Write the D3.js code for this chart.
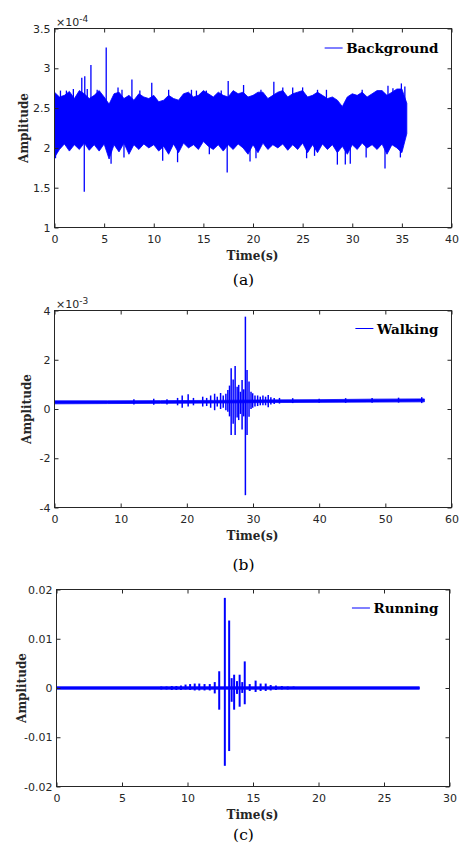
<!DOCTYPE html>
<html>
<head>
<meta charset="utf-8">
<script src="https://cdn.jsdelivr.net/npm/d3@7"></script>
<style>
body { margin: 0; background: #fff; }
</style>
</head>
<body>
<svg id="svg-main"></svg>
<script>
const BLUE = "#0000ff";
const AXIS_COLOR = "#262626";
const SANS = "'DejaVu Sans', sans-serif";
const SERIF = "'DejaVu Serif', serif";

// ---- (a) Background, amplitude in units of 1e-4 ----
var bgTime = [0,0.5,1,1.5,2,2.5,3,3.5,4,4.5,5,5.5,6,6.5,7,7.5,8,8.5,9,9.5,10,10.5,11,11.5,12,12.5,13,13.5,14,14.5,15,15.5,16,16.5,17,17.5,18,18.5,19,19.5,20,20.5,21,21.5,22,22.5,23,23.5,24,24.5,25,25.5,26,26.5,27,27.5,28,28.5,29,29.5,30,30.5,31,31.5,32,32.5,33,33.5,34,34.5,35,35.5];
var bgHigh = [2.70,2.64,2.66,2.71,2.62,2.72,2.68,2.62,2.66,2.72,2.64,2.55,2.68,2.70,2.62,2.66,2.60,2.68,2.64,2.62,2.66,2.58,2.60,2.66,2.62,2.60,2.68,2.70,2.64,2.66,2.72,2.68,2.64,2.70,2.66,2.64,2.72,2.68,2.70,2.64,2.66,2.70,2.70,2.62,2.66,2.70,2.72,2.64,2.68,2.70,2.72,2.64,2.66,2.70,2.66,2.62,2.64,2.60,2.52,2.64,2.68,2.66,2.70,2.64,2.68,2.72,2.72,2.66,2.70,2.74,2.74,2.56];
var bgLow = [1.88,1.98,2.05,1.96,2.04,1.98,2.06,1.97,2.04,1.96,2.05,1.86,2.04,1.95,2.06,1.92,2.04,1.98,2.05,2.00,2.04,1.96,2.02,1.92,2.05,1.94,2.06,2.00,2.04,1.98,2.08,2.02,1.98,2.04,1.96,2.04,1.98,2.05,2.00,1.92,2.04,1.94,2.06,1.98,2.04,2.00,2.05,1.97,2.04,1.98,2.06,1.94,2.04,1.94,2.05,1.98,2.04,1.94,2.02,1.92,2.04,1.98,2.06,2.00,2.04,1.98,2.05,1.92,2.04,2.00,1.94,2.18];
var bgSpikeTime = [0.6,1.2,1.9,2.75,3.05,3.3,3.67,4.3,5.21,6.4,6.8,7.8,8.6,9.8,11.5,13.8,14.3,15.3,16.8,17.5,19.05,20.8,22.1,23.0,24.0,25.0,26.5,27.4,31.0,33.6,34.1,34.95,35.3,
                   0.1,3.0,5.7,7.0,10.9,12.4,15.6,17.4,19.7,20.3,25.4,26.2,28.5,29.3,29.8,31.4,33.3,34.85];
var bgSpikeHigh = [2.72,2.72,2.74,2.88,2.90,2.74,3.04,2.73,3.26,2.76,2.73,2.86,2.72,2.82,2.73,2.73,2.72,2.72,2.72,2.84,2.79,2.73,2.83,2.76,2.76,2.76,2.73,2.73,2.73,2.78,2.75,2.81,2.77,
                   2.3,2.3,2.3,2.3,2.3,2.3,2.3,2.3,2.3,2.3,2.3,2.3,2.3,2.3,2.3,2.3,2.3,2.3];
var bgSpikeLow = [2.3,2.3,2.3,2.3,2.3,2.3,2.3,2.3,2.3,2.3,2.3,2.3,2.3,2.3,2.3,2.3,2.3,2.3,2.3,2.3,2.3,2.3,2.3,2.3,2.3,2.3,2.3,2.3,2.3,2.3,2.3,2.3,2.3,
                  1.87,1.45,1.80,1.88,1.84,1.82,1.92,1.69,1.83,1.87,1.87,1.90,1.79,1.79,1.80,1.88,1.74,1.88];

// ---- (b) Walking, amplitude in units of 1e-3 ----
var walkTime = [0,8,16,24,32,40,48,55.9];
var walkHigh = [0.33,0.33,0.34,0.35,0.37,0.38,0.40,0.41];
var walkLow = [0.21,0.22,0.23,0.24,0.26,0.27,0.28,0.29];
var walkSpikeTime = [12.0,15.0,17.0,18.6,19.3,20.2,21.0,22.4,23.0,23.6,24.2,24.6,25.1,25.5,25.9,26.2,26.45,26.7,27.0,27.3,27.6,27.84,28.1,28.35,28.6,28.85,29.1,29.4,29.7,29.95,30.3,30.7,31.1,31.5,31.9,32.3,32.7,33.2,34,36,40,44,48,52,55.5];
var walkSpikeHigh = [0.40,0.42,0.40,0.45,0.55,0.60,0.45,0.50,0.45,0.55,0.62,0.50,0.65,0.55,0.62,0.77,0.95,1.65,1.20,1.75,0.90,0.98,0.70,1.18,0.80,3.75,1.58,1.12,0.70,0.64,0.55,0.55,0.50,0.55,0.50,0.57,0.48,0.45,0.45,0.44,0.42,0.44,0.45,0.46,0.48];
var walkSpikeLow = [0.18,0.17,0.18,0.15,0.05,0.10,0.15,0.10,0.12,0.05,-0.05,0.10,0.00,0.05,-0.05,-0.11,-0.30,-1.06,-0.60,-1.06,-0.35,-0.45,-0.20,-0.83,-0.30,-3.50,-1.06,-0.31,0.00,0.05,0.10,0.12,0.15,0.15,0.15,0.07,0.18,0.20,0.22,0.24,0.25,0.25,0.25,0.26,0.24];

// ---- (c) Running ----
var runTime = [0,27.7];
var runHigh = [0.00025,0.00025];
var runLow = [-0.00025,-0.00025];
var runSpikeTime = [7.25,7.63,8.0,8.4,8.8,9.15,9.5,9.85,10.2,10.55,10.9,11.3,11.7,12.08,12.42,12.85,13.18,13.37,13.56,13.78,13.98,14.18,14.37,14.75,15.2,15.58,15.97,16.35,16.75,17.2,17.65,18.1,18.9,19.5];
var runSpikeHigh = [0.0002,0.0002,0.0003,0.0003,0.0004,0.0004,0.0005,0.0007,0.0008,0.0009,0.0009,0.0008,0.0008,0.0012,0.0034,0.0183,0.0137,0.0020,0.0027,0.0014,0.0027,0.0012,0.0054,0.0008,0.0015,0.0009,0.0009,0.0006,0.0005,0.0004,0.0003,0.0003,0.0002,0.0002];
var runSpikeLow = [-0.0002,-0.0002,-0.0003,-0.0003,-0.0004,-0.0004,-0.0004,-0.0003,-0.0004,-0.0005,-0.0005,-0.0005,-0.0005,-0.0011,-0.0044,-0.0158,-0.0128,-0.0028,-0.0044,-0.0012,-0.0038,-0.0010,-0.0033,-0.0006,-0.0008,-0.0006,-0.0006,-0.0005,-0.0004,-0.0003,-0.0003,-0.0002,-0.0002,-0.0002];

// ---- axes ticks ----
var xTicksA = [0,5,10,15,20,25,30,35,40];
var yTicksA = [1,1.5,2,2.5,3,3.5];
var xTicksB = [0,10,20,30,40,50,60];
var yTicksB = [-4,-2,0,2,4];
var xTicksC = [0,5,10,15,20,25,30];
var yTicksC = [-0.02,-0.01,0,0.01,0.02];

var Dims = {
    MainSvg : { Width: 460, Height: 845 },
    TickSize : 4,
    LegendRight : 438.5
};

var panels = [
    {
        box: { left: 54.5, right: 451.5, top: 28.5, bottom: 227.5 },
        xDomain: [0, 40], yDomain: [1, 3.5],
        xTicks: xTicksA, yTicks: yTicksA,
        band: [bgTime, bgHigh, bgLow],
        spikes: [bgSpikeTime, bgSpikeHigh, bgSpikeLow], spikeWidth: 1.3,
        exponent: "-4", legend: "Background", legendY: 53,
        ylabelX: 27.5, xlabelY: 260, caption: "(a)", captionY: 285
    },
    {
        box: { left: 54.5, right: 451.5, top: 310.5, bottom: 507.5 },
        xDomain: [0, 60], yDomain: [-4, 4],
        xTicks: xTicksB, yTicks: yTicksB,
        band: [walkTime, walkHigh, walkLow],
        spikes: [walkSpikeTime, walkSpikeHigh, walkSpikeLow], spikeWidth: 1.5,
        exponent: "-3", legend: "Walking", legendY: 333.5,
        ylabelX: 31, xlabelY: 540, caption: "(b)", captionY: 569.5
    },
    {
        box: { left: 56.5, right: 449.5, top: 589.5, bottom: 786.5 },
        xDomain: [0, 30], yDomain: [-0.02, 0.02],
        xTicks: xTicksC, yTicks: yTicksC,
        band: [runTime, runHigh, runLow],
        spikes: [runSpikeTime, runSpikeHigh, runSpikeLow], spikeWidth: 2,
        exponent: null, legend: "Running", legendY: 613,
        ylabelX: 25.5, xlabelY: 819, caption: "(c)", captionY: 840
    }
];

var svg = d3.select("svg#svg-main")
    .attr("width", Dims.MainSvg.Width)
    .attr("height", Dims.MainSvg.Height)
    .style("display", "block");

panels.forEach(drawPanel);

function drawPanel(p) {
    var box = p.box;
    var x = d3.scaleLinear().domain(p.xDomain).range([box.left, box.right]);
    var y = d3.scaleLinear().domain(p.yDomain).range([box.bottom, box.top]);
    var g = svg.append("g");

    // dense noise band
    var bandData = p.band[0].map(function(t, i) {
        return { t: t, hi: p.band[1][i], lo: p.band[2][i] };
    });
    var area = d3.area()
        .x(function(d) { return x(d.t); })
        .y0(function(d) { return y(d.lo); })
        .y1(function(d) { return y(d.hi); });
    g.append("path")
        .datum(bandData)
        .attr("d", area)
        .attr("fill", BLUE)
        .attr("stroke", BLUE)
        .attr("stroke-width", 0.8);

    // spikes
    var spikeData = p.spikes[0].map(function(t, i) {
        return { t: t, hi: p.spikes[1][i], lo: p.spikes[2][i] };
    });
    g.selectAll("line.spike")
        .data(spikeData)
        .enter()
        .append("line")
        .attr("class", "spike")
        .attr("x1", function(d) { return x(d.t); })
        .attr("x2", function(d) { return x(d.t); })
        .attr("y1", function(d) { return y(d.hi); })
        .attr("y2", function(d) { return y(d.lo); })
        .attr("stroke", BLUE)
        .attr("stroke-width", p.spikeWidth);

    // axes (ticks inside, MATLAB style)
    var fmt = function(d) { return String(d); };
    var bottom = g.append("g")
        .attr("transform", `translate(0,${box.bottom})`)
        .call(d3.axisBottom(x).tickValues(p.xTicks).tickSizeInner(-Dims.TickSize).tickSizeOuter(0).tickPadding(8).tickFormat(fmt));
    var left = g.append("g")
        .attr("transform", `translate(${box.left},0)`)
        .call(d3.axisLeft(y).tickValues(p.yTicks).tickSizeInner(-Dims.TickSize).tickSizeOuter(0).tickPadding(4).tickFormat(fmt));
    var top = g.append("g")
        .attr("transform", `translate(0,${box.top})`)
        .call(d3.axisTop(x).tickValues(p.xTicks).tickSizeInner(-Dims.TickSize).tickSizeOuter(0).tickFormat(""));
    var right = g.append("g")
        .attr("transform", `translate(${box.right},0)`)
        .call(d3.axisRight(y).tickValues(p.yTicks).tickSizeInner(-Dims.TickSize).tickSizeOuter(0).tickFormat(""));

    [bottom, left, top, right].forEach(function(a) {
        a.select(".domain").remove();
        a.selectAll("line").attr("stroke", AXIS_COLOR);
        a.selectAll("text")
            .attr("fill", AXIS_COLOR)
            .attr("font-family", SANS)
            .attr("font-size", 11);
    });

    g.append("rect")
        .attr("x", box.left)
        .attr("y", box.top)
        .attr("width", box.right - box.left)
        .attr("height", box.bottom - box.top)
        .attr("fill", "none")
        .attr("stroke", AXIS_COLOR)
        .attr("stroke-width", 1);

    // exponent
    if (p.exponent) {
        var ex = g.append("text")
            .attr("x", box.left + 1.5)
            .attr("y", box.top - 3)
            .attr("font-family", SANS)
            .attr("font-size", 11)
            .attr("fill", AXIS_COLOR)
            .text("\u00d710");
        ex.append("tspan")
            .attr("font-size", 9)
            .attr("dy", -4)
            .text(p.exponent);
    }

    // labels
    var cx = (box.left + box.right) / 2;
    g.append("text")
        .attr("x", cx - 0.5)
        .attr("y", p.xlabelY)
        .attr("text-anchor", "middle")
        .attr("font-family", SERIF)
        .attr("font-weight", "bold")
        .attr("font-size", 12)
        .attr("fill", AXIS_COLOR)
        .text("Time(s)");

    g.append("text")
        .attr("transform", `translate(${p.ylabelX},${(box.top + box.bottom) / 2}) rotate(-90)`)
        .attr("text-anchor", "middle")
        .attr("font-family", SERIF)
        .attr("font-weight", "bold")
        .attr("font-size", 12)
        .attr("fill", AXIS_COLOR)
        .text("Amplitude");

    g.append("text")
        .attr("x", 243.5)
        .attr("y", p.captionY)
        .attr("text-anchor", "middle")
        .attr("font-family", SERIF)
        .attr("font-size", 15.5)
        .attr("fill", "#000")
        .text(p.caption);

    // legend
    var lt = g.append("text")
        .attr("x", Dims.LegendRight)
        .attr("y", p.legendY)
        .attr("text-anchor", "end")
        .attr("font-family", SERIF)
        .attr("font-weight", "bold")
        .attr("font-size", 13.5)
        .attr("fill", "#000")
        .text(p.legend);
    var textStart = Dims.LegendRight - lt.node().getComputedTextLength();
    g.append("line")
        .attr("x1", textStart - 21.5)
        .attr("x2", textStart - 3.5)
        .attr("y1", p.legendY - 5)
        .attr("y2", p.legendY - 5)
        .attr("stroke", BLUE)
        .attr("stroke-width", 1);
}
</script>
</body>
</html>
